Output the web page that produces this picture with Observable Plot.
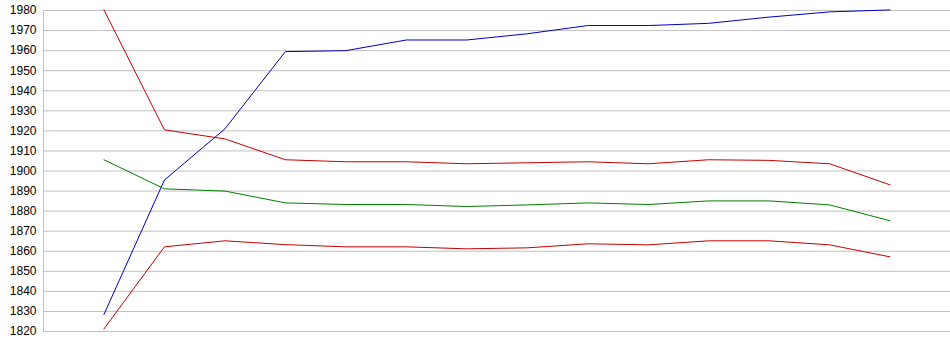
<!DOCTYPE html>
<html>
<head>
<meta charset="utf-8">
<script src="https://cdn.jsdelivr.net/npm/d3@7"></script>
<script src="https://cdn.jsdelivr.net/npm/@observablehq/plot@0.6"></script>
<style>
  html, body { margin: 0; padding: 0; background: #fff; }
  svg { display: block; }
</style>
</head>
<body>
<div id="chart"></div>
<script>
const positions = [1, 2, 3, 4, 5, 6, 7, 8, 9, 10, 11, 12, 13, 14];
const blueValues = [1828.5, 1895.5, 1921, 1959.5, 1960, 1965.3, 1965.3, 1968.4, 1972.5, 1972.5, 1973.6, 1976.7, 1979.3, 1980.3];
const redTopValues = [1980.3, 1920.5, 1916, 1905.6, 1904.6, 1904.6, 1903.6, 1904.1, 1904.6, 1903.6, 1905.6, 1905.3, 1903.6, 1893.1];
const greenValues = [1905.6, 1891.1, 1890, 1884.1, 1883.3, 1883.3, 1882.3, 1883.1, 1884.1, 1883.3, 1885.1, 1885.1, 1883.1, 1875.2];
const redBottomValues = [1821.3, 1862.2, 1865.2, 1863.3, 1862.2, 1862.2, 1861.2, 1861.7, 1863.7, 1863.2, 1865.2, 1865.2, 1863.2, 1857.2];
const yTicks = d3.range(1820, 1981, 10);

const series = [
  {name: "blue", values: blueValues, color: "#0000c8"},
  {name: "redTop", values: redTopValues, color: "#c80000"},
  {name: "green", values: greenValues, color: "#008000"},
  {name: "redBottom", values: redBottomValues, color: "#c80000"}
];
const rows = series.flatMap(s => s.values.map((v, i) => ({x: positions[i], y: v, s: s.name, c: s.color})));

const chart = Plot.plot({
  width: 950,
  height: 355,
  marginTop: 10,
  marginBottom: 24,
  marginLeft: 43,
  marginRight: 0,
  style: {fontFamily: "Arial, 'Liberation Sans', sans-serif", fontSize: "12px", background: "#fff", color: "#000"},
  x: {domain: [0, 15], axis: null},
  y: {domain: [1820, 1980], ticks: yTicks, tickFormat: d => String(d)},
  marks: [
    Plot.ruleY(yTicks, {stroke: "#c0c0c0", strokeWidth: 1, strokeOpacity: 1}),
    Plot.ruleX([0], {y1: 1820, y2: 1980, stroke: "#c0c0c0", strokeWidth: 1, strokeOpacity: 1}),
    Plot.axisY({ticks: yTicks, tickSize: 0, tickPadding: 7, tickFormat: d => String(d), fill: "#000", fontSize: 12, label: null}),
    ...series.map(s => Plot.line(rows.filter(r => r.s === s.name), {x: "x", y: "y", stroke: s.color, strokeWidth: 1}))
  ]
});
document.getElementById("chart").appendChild(chart);
</script>
</body>
</html>
